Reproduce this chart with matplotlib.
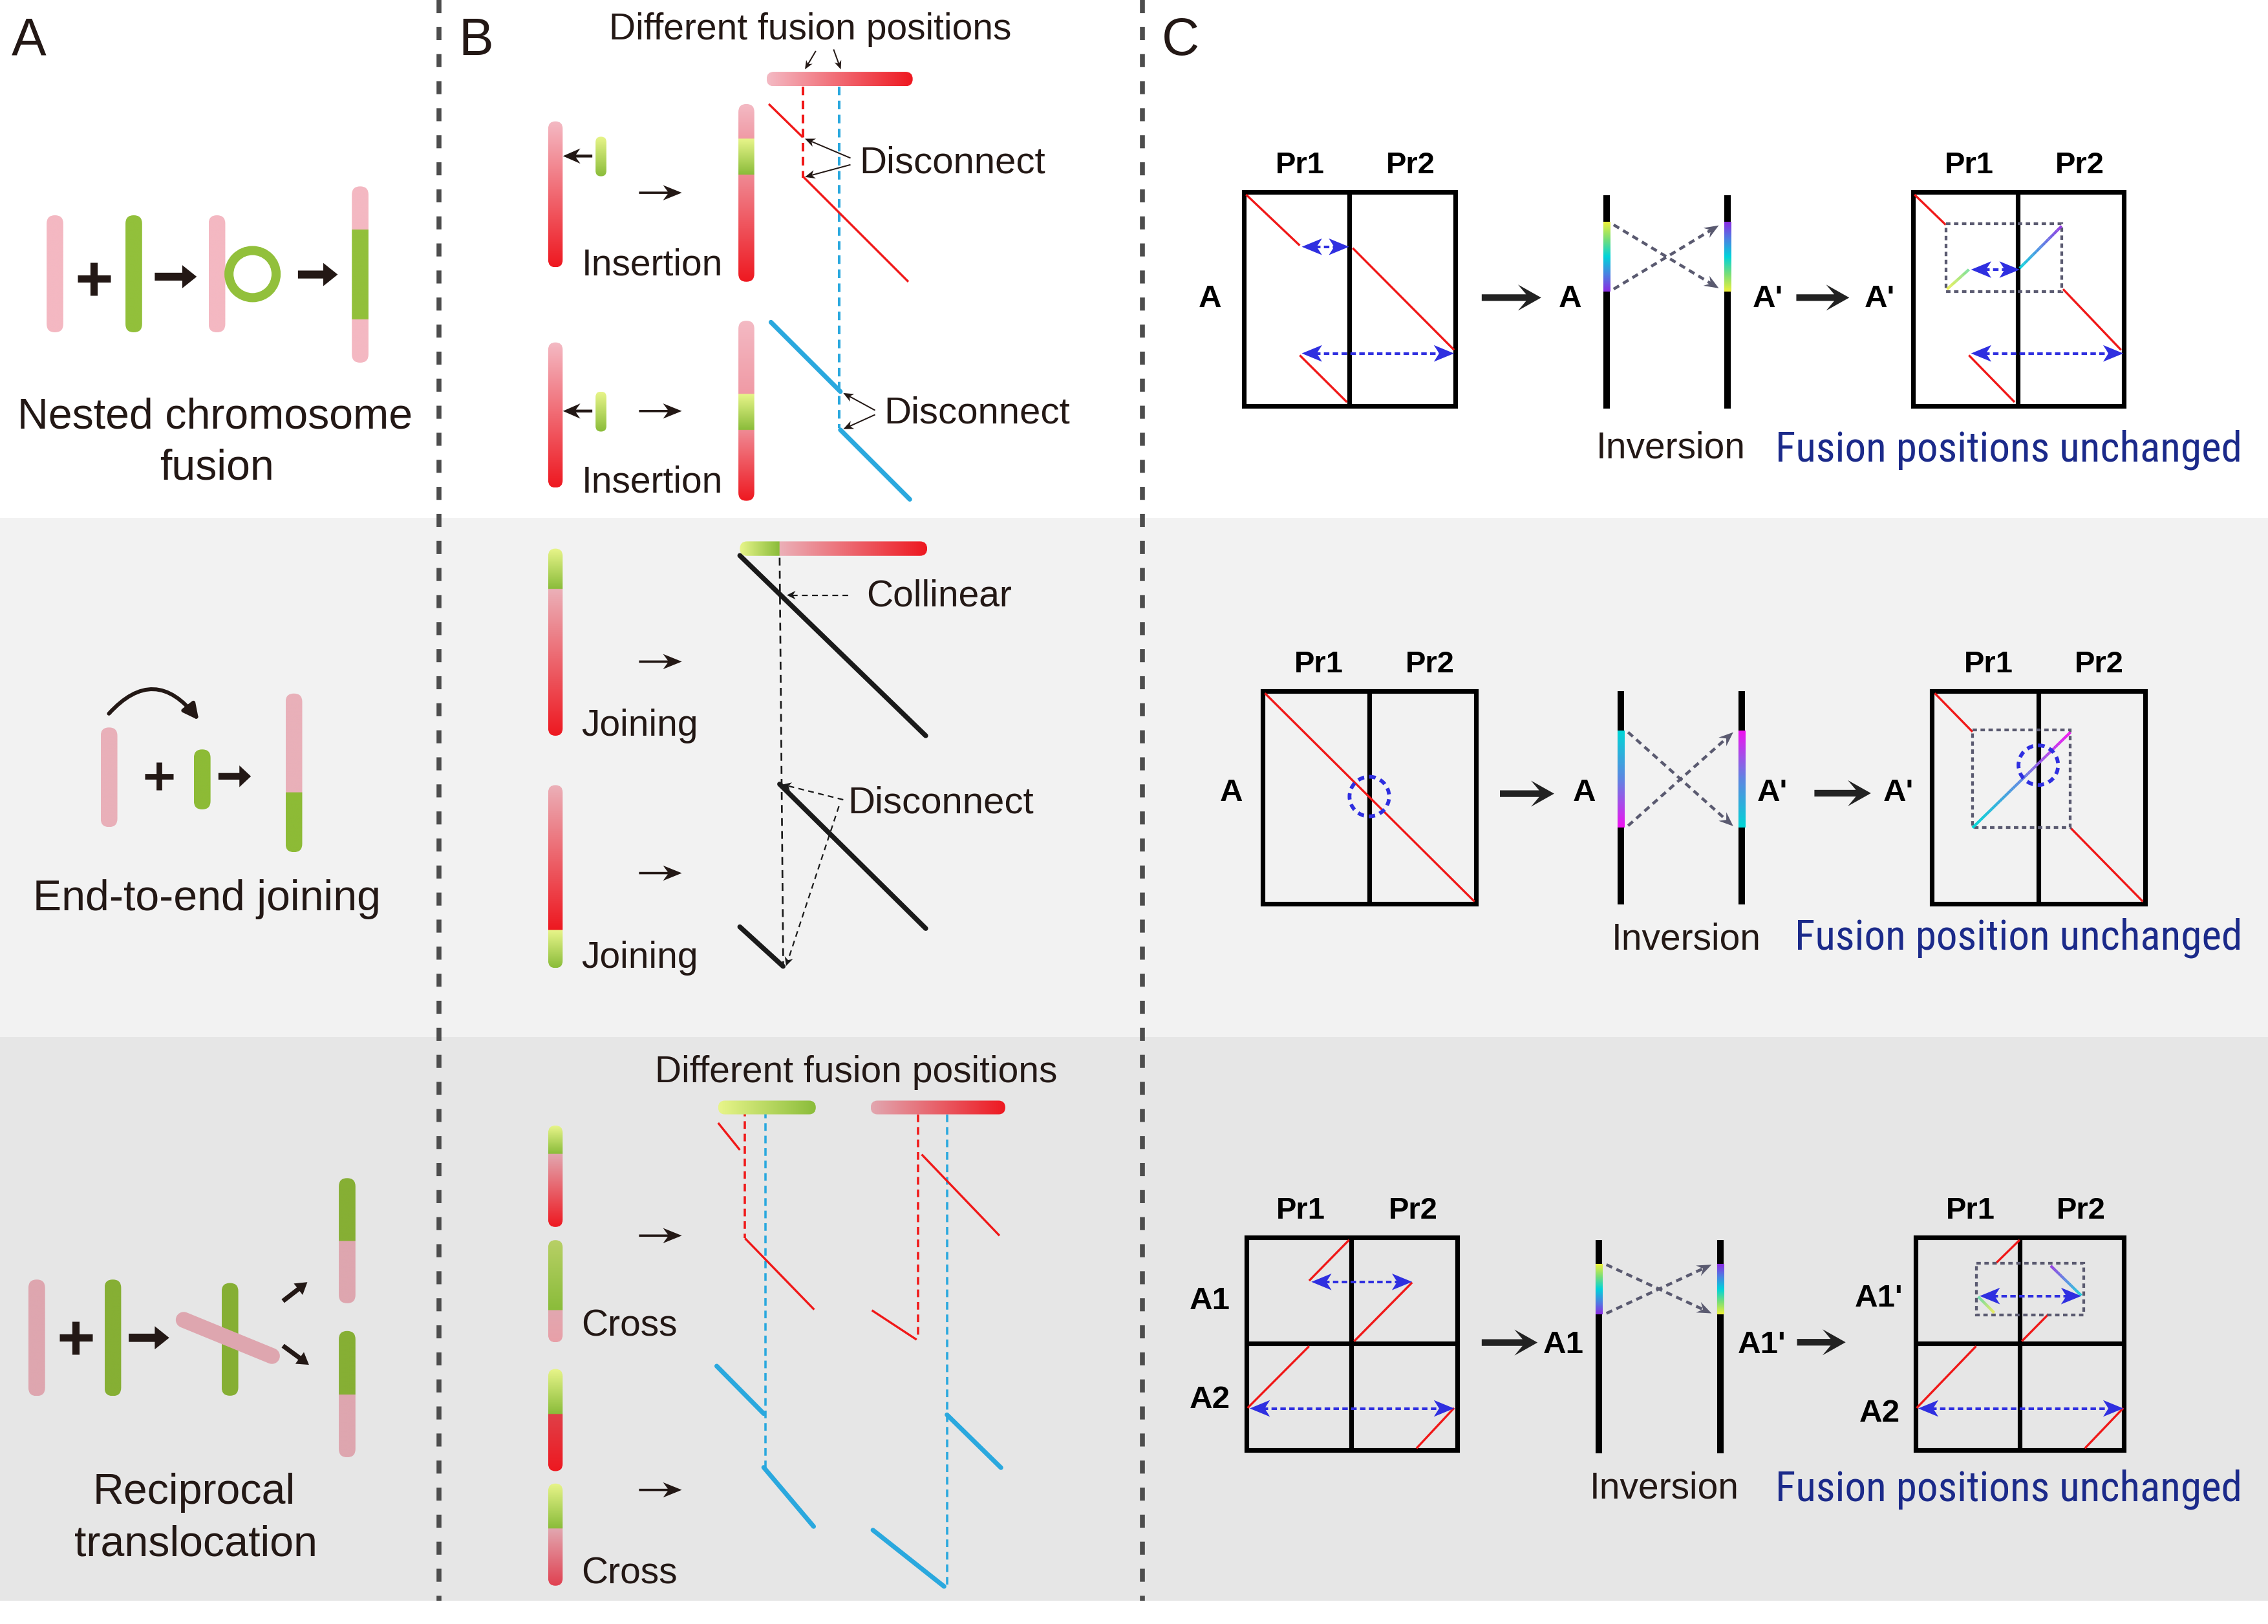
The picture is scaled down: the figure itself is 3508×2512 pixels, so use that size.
import numpy as np
import matplotlib
matplotlib.use("Agg")
import matplotlib.pyplot as plt
from matplotlib import font_manager
from matplotlib.colors import to_rgb, LinearSegmentedColormap
from matplotlib.collections import LineCollection
from matplotlib.patches import FancyBboxPatch, Polygon, Rectangle, Circle, FancyArrowPatch
from matplotlib.path import Path

# canvas in "display" units of the reference (1568 x 1124)
W, H = 1568, 1124
PX = 3508 / W                 # output pixels per display unit
PT = PX * 0.72                # points per display unit

FONT = "Liberation Sans"
_fams = {f.name for f in font_manager.fontManager.ttflist}
NARROW_CANDIDATES = ["Liberation Sans Narrow", "Arial Narrow", "Roboto Condensed",
                     "Noto Sans Condensed", "Open Sans Condensed"]
NAVY_FAMILY = next((f for f in NARROW_CANDIDATES if f in _fams), FONT)

# ---------------------------------------------------------------------------
# colours
# ---------------------------------------------------------------------------
DARK = "#231815"
PINK_A = ["#F4B8C2", "#E9B0B9", "#DEA6AF"]
GREEN_A = ["#92C03B", "#8DBB36", "#86AF34"]
PINK_L = "#F4BAC4"
PINK_M = "#F09AA5"
RED = "#EE1820"
GREEN_L = "#E8F58A"
GREEN = "#8ABC3A"
LINE_RED = "#F01818"
LINE_BLUE = "#2AA8DE"
ARROW_BLUE = "#2F2FE0"
NAVY = "#1B2A8A"
GREY_DASH = "#5A5A70"
RAINBOW = ["#EEF03A", "#78DE78", "#00D3DA", "#4A82E2", "#8B2BE2"]
RAINBOW2 = ["#00D6D6", "#5E86E2", "#F012F0"]
ROW_EDGES = [0, 358.5, 717.5, 1108]
ROW_BG = ["white", "#F2F2F2", "#E6E6E6"]
DIVIDERS_X = [303.4, 789.8]

# ---------------------------------------------------------------------------
# texts
# ---------------------------------------------------------------------------
PANEL_LETTERS = ["A", "B", "C"]
PANEL_LETTER_X = [8, 317, 803]
A_CAPTIONS = [["Nested chromosome", "fusion"], ["End-to-end joining"],
              ["Reciprocal", "translocation"]]
A_CAPTION_XY = [[(148.5, 296.6), (150, 332)], [(143, 630)],
                [(134, 1040.8), (135.5, 1076.7)]]

# ---------------------------------------------------------------------------
# panel A geometry
# ---------------------------------------------------------------------------
A1_BARS = [(38, [(149, 230, 0)]), (92.5, [(149, 230, 1)]), (150, [(149, 230, 0)]),
           (249, [(129, 159, 0), (159, 221, 1), (221, 251, 0)])]
A1_RING = (174.6, 189.7, 16.3)
A1_PLUS = (65, 193, 11.5, 5)
A1_ARROWS = [((107, 191.5), (136, 191.5)), ((206, 190), (233.5, 190))]

A2_BARS = [(75.4, [(503.5, 572.4, 0)]), (139.8, [(518.7, 560.2, 1)]),
           (203.2, [(480, 548.5, 0), (548.5, 589.8, 1)])]
A2_PLUS = (110, 537.3, 9.7, 3.9)
A2_ARROWS = [((151, 537.3), (173.5, 537.3))]
A2_CURVE = [(75.3, 493.9), (107, 459), (137.5, 498.5)]

A3_BARS = [(25.4, [(885.6, 966.2, 0)]), (78, [(885.6, 966.2, 1)]),
           (159, [(888, 966, 1)]),
           (240, [(815.4, 859, 1), (859, 902, 0)]),
           (240, [(921.2, 965.4, 1), (965.4, 1008.6, 0)])]
A3_DIAG_BAR = [(127, 913.5), (188, 938.5)]
A3_PLUS = (52.4, 925.9, 11.5, 5)
A3_ARROWS = [((89, 925.9), (117, 925.9))]
A3_SMALL_ARROWS = [((195.6, 900.5), (212.5, 887.4)), ((195.6, 931.4), (213.6, 944.6))]

# ---------------------------------------------------------------------------
# panel B geometry
# ---------------------------------------------------------------------------
B_TITLE = "Different fusion positions"
# row 1 (insertion)
B1_TOPBAR = (54.7, [(530, 631, PINK_L, RED)])
B1_TITLE_ARROWS = [((564, 35.3), (556.5, 48)), ((576.3, 34.2), (581.3, 48))]
B1_VDASH = [(555, 60, 123, LINE_RED), (580, 60, 296, LINE_BLUE)]
B1_LEFT = [(84, 185, PINK_L, RED)]
B1_GREEN = [(94.6, 122, GREEN_L, GREEN)]
B1_RIGHT = [(72, 95.8, PINK_L, PINK_M), (95.8, 120.8, GREEN_L, GREEN), (120.8, 195, "#F08A94", RED)]
B1_RED_LINES = [((531.5, 72), (555, 95)), ((555, 122), (628, 195))]
B1_LEFT2 = [(237, 337.5, PINK_L, RED)]
B1_GREEN2 = [(271, 298.7, GREEN_L, GREEN)]
B1_RIGHT2 = [(222, 272.5, PINK_L, PINK_M), (272.5, 297.5, GREEN_L, GREEN), (297.5, 346.6, "#F08A94", RED)]
B1_BLUE_LINES = [((533, 223), (581, 271)), ((581, 297.5), (629, 345.6))]
B1_DISC = [((594, 119.7), [((588, 109.4), (556.5, 96)), ((588, 114), (556.5, 122.5))]),
           ((611, 293), [((605, 284), (583, 272)), ((605, 287), (583, 297))])]
B1_LEFT_ARROW_Y = [108, 284.5]
B1_RIGHT_ARROW_Y = [133.4, 284.5]
B1_LABEL_Y = [190.4, 340.9]

# row 2 (joining)
B2_TOPBAR = (379.7, [(511.5, 539, GREEN_L, GREEN), (539, 641, "#EBB0B8", RED)])
B2_LEFT1 = [(379.7, 407.8, GREEN_L, GREEN), (407.8, 509.2, "#EBB0B8", RED)]
B2_LEFT2 = [(543.4, 643.8, "#EBB0B8", RED), (643.8, 670, GREEN_L, GREEN)]
B2_BLACK = [((511.5, 384.5), (640, 509.2)), ((539, 542.7), (640, 642.6)),
            ((511.5, 641.5), (541.4, 668.8))]
B2_VDASH = ((539, 386), (541.5, 668))
B2_ARROW_Y = [457.9, 604.3]
B2_LABEL_Y = [509.2, 670]

# row 3 (cross)
B3_TOPBARS = [(766.5, [(496.5, 564, GREEN_L, GREEN)]), (766.5, [(602, 695, "#E2A7B0", RED)])]
B3_VDASH = [(515, 767.3, 857, LINE_RED), (529, 768.6, 1015.6, LINE_BLUE),
            (634.7, 771.2, 927.2, LINE_RED), (654.7, 771.2, 1097.5, LINE_BLUE)]
B3_RED_LINES = [((496.5, 777.2), (511.5, 795.9)), ((515, 857), (562.9, 906.4)),
                ((637.2, 799), (691, 855.2)), ((602.8, 906.9), (633.7, 927.2))]
B3_BLUE_LINES = [((495.5, 945.5), (528, 978.4)), ((528, 1015.6), (562.5, 1056.5)),
                 ((654.7, 979.2), (692, 1015.8)), ((603.5, 1059), (652.7, 1098))]
B3_BARS = [[(779, 798.5, GREEN_L, GREEN), (798.5, 849.2, "#E2A7B0", RED)],
           [(858.3, 907, "#B8D066", GREEN), (907, 929, "#E2A7B0", "#E8A0A8")],
           [(947.5, 978.7, GREEN_L, GREEN), (978.7, 1018.2, "#E04048", RED)],
           [(1026.8, 1058, GREEN_L, GREEN), (1058, 1097.5, "#E2A7B0", "#E04050")]]
B3_ARROW_Y = [855.2, 1031.2]
B3_LABEL_Y = [924.6, 1096.2]

# ---------------------------------------------------------------------------
# panel C geometry: one dict per row
# ---------------------------------------------------------------------------
C_ROWS = [
    dict(box1=(860, 1006.2, 133, 281, 932.7, None), box2=(1322.7, 1468.4, 133, 281, 1394.8, None),
         pr_y=119.9, pr_x=[898.6, 975.3, 1361.2, 1437.9],
         labels=[("A", 836.4, 212.5), ("A", 1085.5, 212.5), ("A'", 1222, 212.5), ("A'", 1299.5, 212.5)],
         red=[((861.5, 134.7), (898.6, 169.9)), ((935.2, 171.7), (1005.3, 242.2)),
              ((898.6, 245.9), (931.2, 278.3)),
              ((1323.6, 134.7), (1345.2, 155.6)), ((1426.3, 200.1), (1466.4, 242.2)),
              ((1361.2, 245.9), (1392.8, 278.3))],
         dbl=[((900, 170.8), (932.7, 170.8)), ((900, 244.6), (1005.3, 244.6)),
              ((1362.7, 186.6), (1396.3, 186.6)), ((1362.7, 244.6), (1468, 244.6))],
         rect=(1345.2, 1425.3, 155, 201.9),
         grad=[((1346.1, 200.1), (1361.2, 186.6), 0.0, 0.3), ((1396.3, 185.6), (1425.3, 156.5), 0.5, 1.0)],
         stops=RAINBOW, circles=[],
         arrows=[((1024.4, 206), (1065.5, 206)), ((1241.9, 206), (1278.5, 206))],
         chrom_x=[1110.6, 1194.3], chrom_y=(135.2, 282.9), col_y=(153.8, 201.9),
         cross=[((1115.6, 155.6), (1188.3, 199.5)), ((1115.6, 200.1), (1188.3, 156))],
         inv=(1155, 317.2), note=("Fusion positions unchanged", 1227.4, 319.1, 1550)),
    dict(box1=(873, 1020.5, 478.3, 625.5, 946.7, None), box2=(1335.5, 1483.2, 478.3, 625.5, 1409.2, None),
         pr_y=465.5, pr_x=[911.6, 988.8, 1374.7, 1451.4],
         labels=[("A", 851.5, 554.5), ("A", 1095.5, 554.5), ("A'", 1225.5, 554.5), ("A'", 1312.6, 554.5)],
         red=[((874.5, 479.8), (1019.4, 624)),
              ((1337.6, 479.8), (1363.7, 506.5)), ((1431.4, 572.9), (1481.5, 624))],
         dbl=[],
         rect=(1363.7, 1431.4, 505.1, 572.9),
         grad=[((1363.7, 572.9), (1431.4, 506.8), 0.0, 1.0)],
         stops=RAINBOW2, circles=[(946.7, 551.3), (1409.2, 529.6)],
         arrows=[((1037, 549.3), (1074.5, 549.3)), ((1254.4, 549), (1293.5, 549))],
         chrom_x=[1120.6, 1204.3], chrom_y=(478.3, 626.1), col_y=(506, 572.9),
         cross=[((1125.6, 506.8), (1198.3, 571.8)), ((1125.6, 571.5), (1198.3, 506.8))],
         inv=(1165.7, 657), note=("Fusion position unchanged", 1240.9, 657, 1550)),
    dict(box1=(861.6, 1007.3, 856.3, 1003.7, 934.2, 930), box2=(1324.2, 1468.4, 856.3, 1003.7, 1396.3, 930),
         pr_y=843.3, pr_x=[899.1, 976.8, 1362.2, 1438.9],
         labels=[("A1", 836.4, 906), ("A2", 836.4, 974.5), ("A1", 1081, 936.5), ("A1'", 1218, 936.5),
                 ("A1'", 1299, 904.3), ("A2", 1299.5, 984)],
         red=[((932.7, 858.2), (905.1, 886.4)), ((976.3, 887.6), (936.2, 928.3)),
              ((905.1, 931.7), (862.5, 974.5)), ((1005.3, 974.5), (979.3, 1002.4)),
              ((1396.3, 858.2), (1380.2, 874)), ((1416.3, 909.5), (1397.8, 928.3)),
              ((1366.2, 931.7), (1325.1, 974.5)), ((1468, 974.5), (1441.4, 1002.4))],
         dbl=[((906.6, 887.2), (976.3, 887.2)), ((864, 974.8), (1005.3, 974.8)),
              ((1368.7, 897), (1438.9, 897)), ((1326.1, 974.8), (1468, 974.8))],
         rect=(1366.2, 1440.4, 874.4, 910),
         grad=[((1378.7, 908.6), (1367.7, 897.5), 0.0, 0.35), ((1438.9, 896.6), (1417.8, 876.1), 0.5, 1.0)],
         stops=RAINBOW, circles=[],
         arrows=[((1024.4, 929.2), (1063, 929.2)), ((1242.4, 929), (1276, 929))],
         chrom_x=[1105.6, 1189.3], chrom_y=(858.2, 1005.8), col_y=(874.8, 909.5),
         cross=[((1110.6, 875.3), (1183.3, 909)), ((1110.6, 909), (1183.3, 875.3))],
         inv=(1150.7, 1037), note=("Fusion positions unchanged", 1227.4, 1038.7, 1550)),
]


# ---------------------------------------------------------------------------
# helpers
# ---------------------------------------------------------------------------
def lw(d):
    return d * PT


def fs(em):
    return em * PT


def seg_image(coord, segs):
    img = np.ones((len(coord), 3))
    for a, b, ca, cb in segs:
        m = (coord >= a) & (coord <= b)
        t = ((coord[m] - a) / (b - a))[:, None]
        img[m] = (1 - t) * np.array(to_rgb(ca)) + t * np.array(to_rgb(cb))
    return img


def vbar(x, segs, w, z=4, rounded=True):
    y0, y1 = segs[0][0], segs[-1][1]
    ys = np.linspace(y0, y1, 700)
    img = seg_image(ys, segs)[:, None, :]
    im = ax.imshow(img, extent=(x - w / 2, x + w / 2, y1, y0), aspect="auto",
                   interpolation="bilinear", zorder=z)
    if rounded:
        clip = FancyBboxPatch((x - w / 2, y0), w, y1 - y0,
                              boxstyle=f"round,pad=0,rounding_size={w / 2}",
                              fc="none", ec="none")
        ax.add_patch(clip)
        im.set_clip_path(clip)


def hbar(y, segs, h, z=4):
    x0, x1 = segs[0][0], segs[-1][1]
    xs = np.linspace(x0, x1, 700)
    img = seg_image(xs, segs)[None, :, :]
    im = ax.imshow(img, extent=(x0, x1, y + h / 2, y - h / 2), aspect="auto",
                   interpolation="bilinear", zorder=z)
    clip = FancyBboxPatch((x0, y - h / 2), x1 - x0, h,
                          boxstyle=f"round,pad=0,rounding_size={h / 2}", fc="none", ec="none")
    ax.add_patch(clip)
    im.set_clip_path(clip)


def solid_bar(x, parts, colours, w=11.5):
    vbar(x, [(a, b, colours[k], colours[k]) for a, b, k in parts], w)


def stop_segs(y0, y1, stops):
    edges = np.linspace(y0, y1, len(stops))
    return [(edges[i], edges[i + 1], stops[i], stops[i + 1]) for i in range(len(stops) - 1)]


def block_arrow(p0, p1, shaft, hl, hw, notch=0.0, color=DARK, z=6):
    p0, p1 = np.asarray(p0, float), np.asarray(p1, float)
    u = (p1 - p0) / np.hypot(*(p1 - p0))
    n = np.array([-u[1], u[0]])
    base = p1 - u * hl
    neck = base + u * hl * notch
    pts = [p0 + n * shaft / 2, neck + n * shaft / 2, base + n * hw / 2, p1,
           base - n * hw / 2, neck - n * shaft / 2, p0 - n * shaft / 2]
    ax.add_patch(Polygon(pts, closed=True, fc=color, ec="none", zorder=z))


def head(tip, frm, hl, hw, notch, color, z=7):
    tip, frm = np.asarray(tip, float), np.asarray(frm, float)
    u = (tip - frm) / np.hypot(*(tip - frm))
    n = np.array([-u[1], u[0]])
    base = tip - u * hl
    pts = [tip, base + n * hw / 2, base + u * hl * notch, base - n * hw / 2]
    ax.add_patch(Polygon(pts, closed=True, fc=color, ec="none", zorder=z))


def dashed_arrow(p0, p1, color, width, dash, hl, hw, notch=0.3, z=6):
    p0, p1 = np.asarray(p0, float), np.asarray(p1, float)
    u = (p1 - p0) / np.hypot(*(p1 - p0))
    q = p1 - u * hl * 0.6
    ax.plot([p0[0], q[0]], [p0[1], q[1]], color=color, lw=lw(width), dashes=dash,
            solid_capstyle="butt", dash_capstyle="butt", zorder=z)
    head(p1, p0, hl, hw, notch, color, z=z + 1)


def thin_arrow(p0, p1, color=DARK, width=0.9, hl=7, hw=6):
    p0, p1 = np.asarray(p0, float), np.asarray(p1, float)
    u = (p1 - p0) / np.hypot(*(p1 - p0))
    q = p1 - u * hl * 0.6
    ax.plot([p0[0], q[0]], [p0[1], q[1]], color=color, lw=lw(width),
            solid_capstyle="butt", zorder=7)
    head(p1, p0, hl, hw, 0.3, color, z=8)


def dbl_arrow(p0, p1, color=ARROW_BLUE):
    p0, p1 = np.asarray(p0, float), np.asarray(p1, float)
    u = (p1 - p0) / np.hypot(*(p1 - p0))
    a, b = p0 + u * 9, p1 - u * 9
    ax.plot([a[0], b[0]], [a[1], b[1]], color=color, lw=lw(1.8), dashes=(2.1, 1.3),
            dash_capstyle="butt", zorder=7)
    head(p0, p1, 14, 11.5, 0.26, color, z=8)
    head(p1, p0, 14, 11.5, 0.26, color, z=8)


def line(p0, p1, color, width, z=5, cap="butt"):
    ax.plot([p0[0], p1[0]], [p0[1], p1[1]], color=color, lw=lw(width),
            solid_capstyle=cap, zorder=z)


def grad_line(p0, p1, stops, t0, t1, width=2.0, z=6):
    n = 60
    xs = np.linspace(p0[0], p1[0], n + 1)
    ys = np.linspace(p0[1], p1[1], n + 1)
    pts = np.column_stack([xs, ys])
    segs = np.stack([pts[:-1], pts[1:]], axis=1)
    cmap = LinearSegmentedColormap.from_list("g", stops)
    ax.add_collection(LineCollection(segs, colors=cmap(np.linspace(t0, t1, n)),
                                     linewidths=lw(width), capstyle="butt", zorder=z))


def plus(x, y, half, thick, z=6):
    ax.plot([x - half, x + half], [y, y], color=DARK, lw=lw(thick), solid_capstyle="butt", zorder=z)
    ax.plot([x, x], [y - half, y + half], color=DARK, lw=lw(thick), solid_capstyle="butt", zorder=z)


def txt(x, y, s, em, color=DARK, ha="left", weight="normal", family=FONT, z=9):
    return ax.text(x, y, s, fontsize=fs(em), color=color, ha=ha, va="baseline",
                   fontweight=weight, family=family, zorder=z)


def fit_txt(x, y, s, x_right, max_em, color, family):
    t = txt(x, y, s, max_em, color=color, family=family)
    width = t.get_window_extent(fig.canvas.get_renderer()).width / PX
    target = x_right - x
    if width > target:
        t.set_fontsize(fs(max_em) * target / width)
    return t


# ---------------------------------------------------------------------------
# figure
# ---------------------------------------------------------------------------
fig = plt.figure(figsize=(35.08, 25.12), dpi=100)
ax = fig.add_axes([0, 0, 1, 1])
ax.set_autoscale_on(False)
ax.set_xlim(0, W)
ax.set_ylim(H, 0)
ax.axis("off")

for i in range(3):
    ax.add_patch(Rectangle((0, ROW_EDGES[i]), W, ROW_EDGES[i + 1] - ROW_EDGES[i],
                           fc=ROW_BG[i], ec="none", zorder=0))
for x in DIVIDERS_X:
    ax.plot([x, x], [0, ROW_EDGES[-1]], color="#4D4D4D", lw=lw(3.4), dashes=(2.65, 2.85),
            dash_capstyle="butt", zorder=1)

for s, x in zip(PANEL_LETTERS, PANEL_LETTER_X):
    txt(x, 38, s, 36)

# ---- panel A --------------------------------------------------------------
for lines_, xy in zip(A_CAPTIONS, A_CAPTION_XY):
    for s, (x, y) in zip(lines_, xy):
        txt(x, y, s, 29.6, ha="center")

cols1 = [PINK_A[0], GREEN_A[0]]
for x, parts in A1_BARS:
    solid_bar(x, parts, cols1)
cx, cy, r = A1_RING
ax.add_patch(Circle((cx, cy), r, fill=False, ec=GREEN_A[0], lw=lw(6.3), zorder=5))
plus(*A1_PLUS)
for p0, p1 in A1_ARROWS:
    block_arrow(p0, p1, 5.5, 10, 16)

cols2 = [PINK_A[1], GREEN_A[1]]
for x, parts in A2_BARS:
    solid_bar(x, parts, cols2)
plus(*A2_PLUS)
for p0, p1 in A2_ARROWS:
    block_arrow(p0, p1, 4.6, 8, 15)
curve = Path(A2_CURVE, [Path.MOVETO, Path.CURVE3, Path.CURVE3])
ax.add_patch(FancyArrowPatch(path=curve, arrowstyle="-|>,head_length=0.6,head_width=0.3",
                             mutation_scale=24, lw=lw(2.7), color=DARK, zorder=6))

cols3 = [PINK_A[2], GREEN_A[2]]
for x, parts in A3_BARS:
    solid_bar(x, parts, cols3)
(dx0, dy0), (dx1, dy1) = A3_DIAG_BAR
ax.plot([dx0, dx1], [dy0, dy1], color=PINK_A[2], lw=lw(11), solid_capstyle="round", zorder=5)
plus(*A3_PLUS)
for p0, p1 in A3_ARROWS:
    block_arrow(p0, p1, 5.7, 10, 16)
for p0, p1 in A3_SMALL_ARROWS:
    block_arrow(p0, p1, 3.2, 8, 10)

# ---- panel B: insertion ----------------------------------------------------
txt(560, 27.4, B_TITLE, 25.5, ha="center")
for p0, p1 in B1_TITLE_ARROWS:
    thin_arrow(p0, p1, hl=6, hw=5)
hbar(B1_TOPBAR[0], B1_TOPBAR[1], 10)
for x, y0, y1, c in B1_VDASH:
    ax.plot([x, x], [y0, y1], color=c, lw=lw(1.8), dashes=(3.3, 2.1), zorder=3)
vbar(384, B1_LEFT, 10)
vbar(415.5, B1_GREEN, 7.5)
vbar(516, B1_RIGHT, 11)
vbar(384, B1_LEFT2, 10)
vbar(415.5, B1_GREEN2, 7.5)
vbar(516, B1_RIGHT2, 11)
for p0, p1 in B1_RED_LINES:
    line(p0, p1, LINE_RED, 1.5)
for p0, p1 in B1_BLUE_LINES:
    line(p0, p1, LINE_BLUE, 3.2, cap="round")
for y in B1_LEFT_ARROW_Y:
    block_arrow((409.5, y), (389.2, y), 2.0, 12, 10.5, 0.25)
for y in B1_RIGHT_ARROW_Y:
    block_arrow((441.8, y), (471.4, y), 1.6, 13, 10.5, 0.25)
for y in B1_LABEL_Y:
    txt(402, y, "Insertion", 25.5)
for (tx, ty), arrs in B1_DISC:
    txt(tx, ty, "Disconnect", 26)
    for p0, p1 in arrs:
        thin_arrow(p0, p1)

# ---- panel B: joining ------------------------------------------------------
hbar(B2_TOPBAR[0], B2_TOPBAR[1], 10)
vbar(384, B2_LEFT1, 10)
vbar(384, B2_LEFT2, 10)
for p0, p1 in B2_BLACK:
    line(p0, p1, "#1A1A1A", 3.4, cap="round")
(vx0, vy0), (vx1, vy1) = B2_VDASH
ax.plot([vx0, vx1], [vy0, vy1], color="#1A1A1A", lw=lw(1.2), dashes=(4.5, 3), zorder=3)
for y in B2_ARROW_Y:
    block_arrow((441.8, y), (471.4, y), 1.6, 13, 10.5, 0.25)
for y in B2_LABEL_Y:
    txt(402, y, "Joining", 25.5)
txt(599, 419.6, "Collinear", 25.5)
dashed_arrow((586.3, 411.9), (544, 411.9), "#1A1A1A", 1.0, (4, 3), 6, 6)
txt(586, 562.8, "Disconnect", 26)
dashed_arrow((583, 553.5), (541, 543), "#1A1A1A", 1.0, (4, 3), 6, 6)
dashed_arrow((580, 558), (543.5, 668.5), "#1A1A1A", 1.0, (4, 3), 6, 6)

# ---- panel B: cross --------------------------------------------------------
txt(592, 749.1, B_TITLE, 25.5, ha="center")
for y, segs in B3_TOPBARS:
    hbar(y, segs, 9.5)
for x, y0, y1, c in B3_VDASH:
    ax.plot([x, x], [y0, y1], color=c, lw=lw(1.6), dashes=(3.3, 2.1), zorder=3)
for p0, p1 in B3_RED_LINES:
    line(p0, p1, LINE_RED, 1.5)
for p0, p1 in B3_BLUE_LINES:
    line(p0, p1, LINE_BLUE, 3.2, cap="round")
for segs in B3_BARS:
    vbar(384, segs, 10)
for y in B3_ARROW_Y:
    block_arrow((441.8, y), (471.4, y), 1.6, 13, 10.5, 0.25)
for y in B3_LABEL_Y:
    txt(402, y, "Cross", 25.5)

# ---- panel C ---------------------------------------------------------------
for row in C_ROWS:
    for key in ("box1", "box2"):
        x0, x1, y0, y1, xd, yd = row[key]
        ax.add_patch(Rectangle((x0, y0), x1 - x0, y1 - y0, fill=False, ec="black",
                               lw=lw(3.2), joinstyle="miter", zorder=4))
        line((xd, y0), (xd, y1), "black", 3.2, z=4)
        if yd is not None:
            line((x0, yd), (x1, yd), "black", 3.2, z=4)
    for i, x in enumerate(row["pr_x"]):
        txt(x, row["pr_y"], "Pr1" if i % 2 == 0 else "Pr2", 21, ha="center", weight="bold",
            color="black")
    for s, x, y in row["labels"]:
        txt(x, y, s, 22, ha="center", weight="bold", color="black")
    for p0, p1 in row["red"]:
        line(p0, p1, LINE_RED, 1.5, z=5)
    for p0, p1 in row["dbl"]:
        dbl_arrow(p0, p1)
    rx0, rx1, ry0, ry1 = row["rect"]
    ax.add_patch(Rectangle((rx0, ry0), rx1 - rx0, ry1 - ry0, fill=False, ec=GREY_DASH,
                           lw=lw(1.9), ls=(0, (1.6, 1.3)), zorder=5))
    for p0, p1, t0, t1 in row["grad"]:
        grad_line(p0, p1, row["stops"], t0, t1, width=1.9)
    for cxy in row["circles"]:
        ax.add_patch(Circle(cxy, 13.7, fill=False, ec=ARROW_BLUE, lw=lw(2.6),
                            ls=(0, (1.7, 1.3)), zorder=7))
    for p0, p1 in row["arrows"]:
        block_arrow(p0, p1, 4.6, 16, 18, 0.35, color="#222222")
    cy0, cy1 = row["chrom_y"]
    ky0, ky1 = row["col_y"]
    for j, x in enumerate(row["chrom_x"]):
        line((x, cy0), (x, cy1), "black", 4.5, z=4)
        stops = row["stops"] if j == 0 else row["stops"][::-1]
        vbar(x, stop_segs(ky0, ky1, stops), 4.6, z=5, rounded=False)
    for p0, p1 in row["cross"]:
        dashed_arrow(p0, p1, GREY_DASH, 2.0, (2.2, 1.6), 10, 8, 0.35)
    ix, iy = row["inv"]
    txt(ix, iy, "Inversion", 25.4, ha="center")
    s, nx, ny, nr = row["note"]
    fit_txt(nx, ny, s, nr, 31, NAVY, NAVY_FAMILY)

ax.set_xlim(0, W)
ax.set_ylim(H, 0)
fig.savefig("out.png", dpi=100)
